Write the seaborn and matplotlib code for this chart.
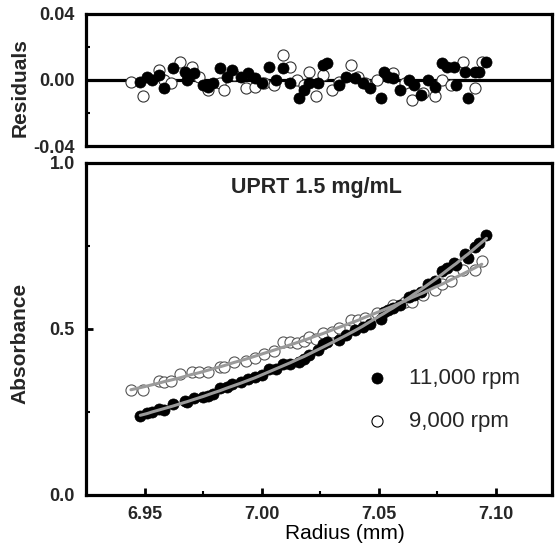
import numpy as np
import pandas as pd
import matplotlib
matplotlib.use("Agg")
import matplotlib.pyplot as plt
from matplotlib.ticker import FixedLocator
import seaborn as sns

# ---------------- data ----------------
# 11,000 rpm (filled circles)
radius_11k = [6.948, 6.951, 6.953, 6.956, 6.958, 6.962, 6.967, 6.968, 6.971, 6.975,
              6.977, 6.979, 6.982, 6.985, 6.987, 6.991, 6.994, 6.997, 7.000, 7.003,
              7.006, 7.009, 7.012, 7.016, 7.018, 7.020, 7.024, 7.026, 7.028, 7.033,
              7.036, 7.040, 7.043, 7.046, 7.051, 7.052, 7.054, 7.056, 7.059, 7.063,
              7.065, 7.068, 7.071, 7.074, 7.077, 7.079, 7.082, 7.083, 7.087, 7.088,
              7.091, 7.093, 7.096]
absorb_11k = [0.239, 0.247, 0.250, 0.259, 0.255, 0.275, 0.284, 0.281, 0.292, 0.294,
              0.298, 0.305, 0.321, 0.324, 0.333, 0.339, 0.349, 0.354, 0.360, 0.379,
              0.380, 0.396, 0.396, 0.400, 0.411, 0.422, 0.436, 0.454, 0.462, 0.467,
              0.483, 0.497, 0.506, 0.516, 0.531, 0.551, 0.557, 0.564, 0.571, 0.595,
              0.602, 0.610, 0.634, 0.645, 0.675, 0.684, 0.700, 0.694, 0.725, 0.714,
              0.748, 0.760, 0.784]
resid_11k = [-0.001, 0.0016, 0.000, 0.003, -0.005, 0.007, 0.005, 0.000, 0.004, -0.003,
             -0.004, -0.002, 0.007, 0.002, 0.006, 0.002, 0.004, 0.001, -0.002, 0.008,
             0.000, 0.007, -0.002, -0.011, -0.006, -0.002, -0.002, 0.009, 0.010, -0.003,
             0.002, 0.001, -0.002, -0.005, -0.011, 0.005, 0.002, 0.001, -0.006, 0.000,
             -0.003, -0.009, 0.000, -0.004, 0.010, 0.008, 0.008, -0.003, 0.005, -0.011,
             0.005, 0.005, 0.011]

# 9,000 rpm (open circles)
radius_9k = [6.944, 6.949, 6.956, 6.958, 6.961, 6.965, 6.970, 6.973, 6.977, 6.982,
             6.984, 6.988, 6.993, 6.997, 7.001, 7.005, 7.009, 7.012, 7.015, 7.018,
             7.020, 7.023, 7.026, 7.030, 7.033, 7.038, 7.041, 7.044, 7.049, 7.056,
             7.061, 7.064, 7.069, 7.074, 7.077, 7.081, 7.086, 7.091, 7.094]
absorb_9k = [0.316, 0.315, 0.343, 0.341, 0.344, 0.364, 0.371, 0.370, 0.370, 0.384,
             0.384, 0.402, 0.404, 0.414, 0.425, 0.433, 0.460, 0.460, 0.459, 0.463,
             0.476, 0.469, 0.489, 0.491, 0.504, 0.527, 0.528, 0.533, 0.549, 0.573,
             0.582, 0.582, 0.601, 0.616, 0.635, 0.646, 0.677, 0.679, 0.706]
resid_9k = [-0.001, -0.010, 0.006, 0.000, -0.002, 0.011, 0.008, 0.002, -0.006, -0.002,
            -0.006, 0.003, -0.005, -0.004, -0.002, -0.003, 0.015, 0.008, 0.000, -0.003,
            0.005, -0.010, 0.003, -0.006, -0.001, 0.009, 0.002, -0.002, 0.000, 0.004,
            -0.002, -0.012, -0.008, -0.010, 0.000, -0.003, 0.011, -0.005, 0.011]

labels = ["11,000 rpm", "9,000 rpm"]
x_ticks = [6.95, 7.00, 7.05, 7.10]
x_tick_labels = ["6.95", "7.00", "7.05", "7.10"]
abs_ticks = [0.0, 0.5, 1.0]
abs_tick_labels = ["0.0", "0.5", "1.0"]
res_ticks = [-0.04, 0.00, 0.04]
res_tick_labels = ["-0.04", "0.00", "0.04"]
title_text = "UPRT 1.5 mg/mL"

df11 = pd.DataFrame({"r": radius_11k, "a": absorb_11k, "res": resid_11k})
df11["fit"] = df11["a"] - df11["res"]
df9 = pd.DataFrame({"r": radius_9k, "a": absorb_9k, "res": resid_9k})
df9["fit"] = df9["a"] - df9["res"]

# ---------------- style ----------------
sns.set_style("ticks")
plt.rcParams["font.family"] = ["Liberation Sans", "DejaVu Sans"]

fig = plt.figure(figsize=(5.56, 5.44), dpi=100)
ax_r = fig.add_axes([0.1547, 0.7316, 0.8381, 0.2427])
ax = fig.add_axes([0.1547, 0.0901, 0.8381, 0.6103])

XLIM = (6.9248, 7.124)
SPINE_W = 2.3
MS = 64
FILL_C = "black"
OPEN_EDGE = "#555555"
FIT_C = "#9a9a9a"

# ---------------- residuals panel ----------------
ax_r.axhline(0, color="black", lw=2.3, zorder=1)
sns.scatterplot(data=df9, x="r", y="res", ax=ax_r, marker="o", s=MS,
                facecolor="white", edgecolor="#333333", linewidth=0.8, zorder=2)
sns.scatterplot(data=df11, x="r", y="res", ax=ax_r, marker="o", s=MS,
                color=FILL_C, edgecolor=FILL_C, linewidth=0.5, zorder=3)
ax_r.set_xlim(*XLIM)
ax_r.set_ylim(-0.04, 0.04)
ax_r.set_yticks(res_ticks)
ax_r.set_yticklabels(res_tick_labels)
ax_r.yaxis.set_minor_locator(FixedLocator([-0.02, 0.02]))
ax_r.set_xticks([])
ax_r.set_xlabel("")
ax_r.set_ylabel("Residuals", fontsize=15, fontweight="bold")
ax_r.yaxis.set_label_coords(-0.122, 0.44)

# ---------------- absorbance panel ----------------
sns.scatterplot(data=df9, x="r", y="a", ax=ax, marker="o", s=MS,
                facecolor="white", edgecolor=OPEN_EDGE, linewidth=0.8,
                label=labels[1], zorder=2)
sns.scatterplot(data=df11, x="r", y="a", ax=ax, marker="o", s=MS,
                color=FILL_C, edgecolor=FILL_C, linewidth=0.5,
                label=labels[0], zorder=3)
sns.lineplot(data=df9, x="r", y="fit", ax=ax, color=FIT_C, lw=2.2,
             estimator=None, sort=True, zorder=4, legend=False)
sns.lineplot(data=df11, x="r", y="fit", ax=ax, color=FIT_C, lw=2.2,
             estimator=None, sort=True, zorder=4, legend=False)
ax.set_xlim(*XLIM)
ax.set_ylim(0.0, 1.0)
ax.set_xticks(x_ticks)
ax.set_xticklabels(x_tick_labels)
ax.xaxis.set_minor_locator(FixedLocator([6.975, 7.025, 7.075]))
ax.set_yticks(abs_ticks)
ax.set_yticklabels(abs_tick_labels)
ax.yaxis.set_minor_locator(FixedLocator([0.25, 0.75]))
ax.set_xlabel("Radius (mm)", fontsize=15, color="black")
ax.xaxis.set_label_coords(0.556, -0.088)
ax.set_ylabel("Absorbance", fontsize=15, fontweight="bold")
ax.yaxis.set_label_coords(-0.122, 0.455)
ax.text(0.495, 0.925, title_text, transform=ax.transAxes, ha="center",
        va="center", fontsize=15.5, fontweight="bold")

handles, labs = ax.get_legend_handles_labels()
order = [labs.index(labels[0]), labs.index(labels[1])]
leg = ax.legend([handles[i] for i in order], [labs[i] for i in order],
                loc="center left", bbox_to_anchor=(0.600, 0.286),
                frameon=False, fontsize=16, handlelength=1.0,
                handletextpad=0.95, labelspacing=1.0, borderpad=0,
                borderaxespad=0, markerscale=1.0)
for h in leg.legend_handles:
    h.set_sizes([64])
leg.legend_handles[1].set_edgecolor("black")

for a in (ax, ax_r):
    for sp in a.spines.values():
        sp.set_visible(True)
        sp.set_linewidth(SPINE_W)
        sp.set_color("black")
    a.tick_params(axis="both", which="major", direction="in", length=5,
                  width=2, color="black", labelsize=13, pad=8)
    a.tick_params(axis="both", which="minor", direction="in", length=3,
                  width=1.5, color="black")
    for lab in a.get_xticklabels() + a.get_yticklabels():
        lab.set_fontweight("bold")
ax_r.tick_params(axis="x", which="both", length=0)

fig.savefig("out.png", dpi=100)
